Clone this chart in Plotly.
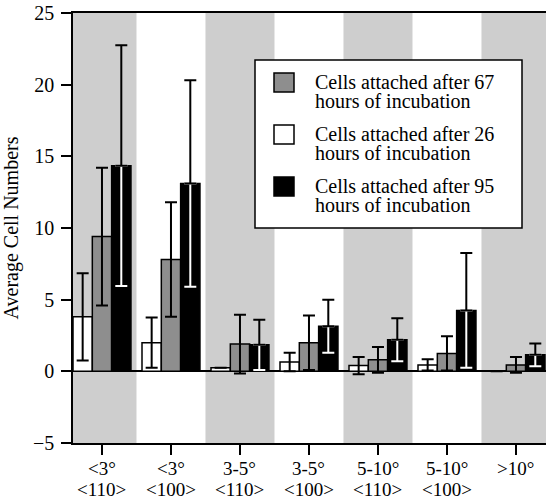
import plotly.graph_objects as go

# ---------------- data ----------------
cat_line1 = ["&lt;3°", "&lt;3°", "3-5°", "3-5°", "5-10°", "5-10°", "&gt;10°"]
cat_line2 = ["&lt;110&gt;", "&lt;100&gt;", "&lt;110&gt;", "&lt;100&gt;", "&lt;110&gt;", "&lt;100&gt;", ""]

white26 = [3.8, 2.0, 0.25, 0.65, 0.4, 0.45, 0.0]
white26_err = [3.05, 1.75, 0.0, 0.65, 0.6, 0.4, 0.0]
gray67 = [9.4, 7.8, 1.9, 2.0, 0.8, 1.25, 0.45]
gray67_err = [4.8, 4.0, 2.05, 1.9, 0.9, 1.2, 0.55]
black95 = [14.35, 13.1, 1.85, 3.15, 2.2, 4.25, 1.15]
black95_err = [8.4, 7.2, 1.75, 1.85, 1.5, 4.0, 0.8]

name67 = ["Cells attached after 67", "hours of incubation"]
name26 = ["Cells attached after 26", "hours of incubation"]
name95 = ["Cells attached after 95", "hours of incubation"]

y_ticks = [-5, 0, 5, 10, 15, 20, 25]

# ---------------- style ----------------
FONT = "Liberation Serif, Times New Roman, serif"
GRAY_BAR = "#8e8e8e"
BAND = "#cecece"
W, H = 546, 499
ML, MR, MT, MB = 73, 0, 13, 56

categories = [f"{a}<br>{b}" if b else a for a, b in zip(cat_line1, cat_line2)]

fig = go.Figure()

def err(vals, color, sym=True, up=True):
    if sym:
        return dict(type="data", array=vals, visible=True, color=color,
                    thickness=2, width=6)
    if up:
        return dict(type="data", symmetric=False, array=vals,
                    arrayminus=[0] * len(vals), visible=True, color=color,
                    thickness=2, width=6)
    return dict(type="data", symmetric=False, array=[0] * len(vals),
                arrayminus=vals, visible=True, color=color,
                thickness=2, width=6)

line = dict(color="black", width=1.5)

fig.add_trace(go.Bar(x=categories, y=white26, offsetgroup="w",
                     marker=dict(color="white", line=line),
                     error_y=err(white26_err, "black"), showlegend=False))
fig.add_trace(go.Bar(x=categories, y=gray67, offsetgroup="g",
                     marker=dict(color=GRAY_BAR, line=line),
                     error_y=err(gray67_err, "black"), showlegend=False))
fig.add_trace(go.Bar(x=categories, y=black95, offsetgroup="b",
                     marker=dict(color="black", line=line),
                     error_y=err(black95_err, "white", sym=False, up=False),
                     showlegend=False))
fig.add_trace(go.Bar(x=categories, y=black95, offsetgroup="b",
                     marker=dict(color="rgba(0,0,0,0)", line=dict(width=0)),
                     error_y=err(black95_err, "black", sym=False, up=True),
                     showlegend=False, hoverinfo="skip"))

# background bands on alternating categories
shapes = []
for i in range(0, len(categories), 2):
    shapes.append(dict(type="rect", xref="x", yref="paper", x0=i - 0.5, x1=i + 0.5,
                       y0=0, y1=1, fillcolor=BAND, line=dict(width=0), layer="below"))

# pixel helpers (window pixel coords -> paper coords)
PW = W - ML - MR
PH = H - MT - MB
def px(x):
    return (x - ML) / PW
def py(y):
    return (H - MB - y) / PH

shapes.append(dict(type="rect", xref="paper", yref="paper",
                   x0=px(255), x1=px(522), y0=py(228), y1=py(60),
                   fillcolor="white", line=dict(color="black", width=1.5),
                   layer="above"))
annotations = []
legend_items = [(GRAY_BAR, name67), ("white", name26), ("black", name95)]
for k, (col, nm) in enumerate(legend_items):
    top = 73 + 52 * k
    shapes.append(dict(type="rect", xref="paper", yref="paper",
                       x0=px(274), x1=px(294), y0=py(top + 19), y1=py(top),
                       fillcolor=col, line=dict(color="black", width=1.5),
                       layer="above"))
    for j, t in enumerate(nm):
        annotations.append(dict(xref="paper", yref="paper", x=px(313),
                                y=py(top + 9 + 19 * j), text=t, showarrow=False,
                                xanchor="left", yanchor="middle",
                                font=dict(family=FONT, size=20, color="black")))

# category labels (two tight lines each)
for c, a, b in zip(categories, cat_line1, cat_line2):
    for j, t in enumerate([a, b]):
        if not t:
            continue
        annotations.append(dict(xref="x", yref="paper", x=c, y=py(469 + 20 * j),
                                text=t, showarrow=False, xanchor="center",
                                yanchor="middle",
                                font=dict(family=FONT, size=19, color="black")))

fig.update_layout(
    width=W, height=H,
    margin=dict(l=ML, r=MR, t=MT, b=MB),
    paper_bgcolor="white", plot_bgcolor="white",
    barmode="group", bargap=0.16, bargroupgap=0,
    font=dict(family=FONT, size=19, color="black"),
    shapes=shapes, annotations=annotations,
    showlegend=False,
)
fig.update_xaxes(range=[-0.42, 6.435], automargin=False, showline=True,
                 linecolor="black", linewidth=1.5,
                 mirror=True, ticks="outside", ticklen=10, tickwidth=1.5,
                 tickcolor="black", showgrid=False, zeroline=False,
                 showticklabels=False)
fig.update_yaxes(range=[-5, 25], automargin=False, tickvals=y_ticks, showline=True,
                 linecolor="black",
                 linewidth=1.5, ticks="outside", ticklen=10, tickwidth=1.5,
                 tickcolor="black", showgrid=False, zeroline=True,
                 zerolinecolor="black", zerolinewidth=2, ticklabelstandoff=3,
                 ticklabeloverflow="allow",
                 tickfont=dict(family=FONT, size=20),
                 title=dict(text="Average Cell Numbers", font=dict(family=FONT, size=20),
                            standoff=9))

fig.write_html("out.html", config={"displayModeBar": False},
               post_script="document.body.style.margin='0px';")
